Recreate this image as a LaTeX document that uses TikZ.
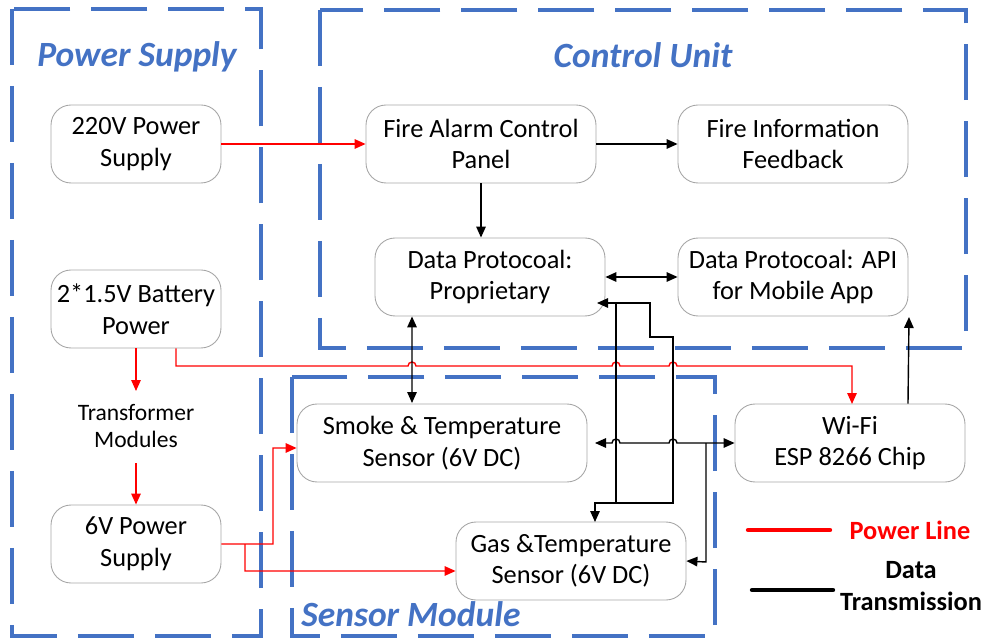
\documentclass[tikz,border=0pt]{standalone}
\usepackage{fontspec}
\setmainfont{Carlito}
\usetikzlibrary{arrows.meta}
\definecolor{zoneblue}{RGB}{68,114,196}
\definecolor{pwrred}{RGB}{255,0,0}
\tikzset{
  blk/.style={draw=gray!70, line width=0.5pt, rounded corners=0.4cm,
    minimum width=4.6cm, minimum height=1.56cm, align=center,
    font=\fontsize{15}{18}\selectfont},
  zone/.style={draw=zoneblue, line width=2pt, dash pattern=on 1.12cm off 0.42cm},
  zonetitle/.style={text=zoneblue, font=\fontsize{20.2}{23}\selectfont\bfseries\itshape},
  pwr/.style={draw=pwrred, line width=0.8pt},
  dat/.style={draw=black, line width=0.8pt},
  legtext/.style={align=center, font=\fontsize{15}{18}\selectfont\bfseries},
}
\begin{document}
\begin{tikzpicture}[x=0.02cm, y=-0.02cm, >={Triangle[length=0.22cm,width=0.19cm]}]
  \useasboundingbox (0,0) rectangle (987,638);

  % Drawing zones
  \draw [zone] (12,9) rectangle (261,636);
  \draw [zone] (320,10) rectangle (966,348);
  \draw [zone] (292,377) rectangle (715,636);
  \node [zonetitle] (tps) at (137,57) {Power Supply};
  \node [zonetitle] (tcu) at (643,55) {Control Unit};
  \node [zonetitle] (tsm) at (411,614) {Sensor Module};

  % Drawing blocks
  \node [blk, minimum width=3.4cm] (ps220) at (136,144) {220V Power\\Supply};
  \node [blk] (facp) at (481,144) {Fire Alarm Control\\Panel};
  \node [blk] (fifb) at (793,144) {Fire Information\\Feedback};
  \node [blk] (dpprop) at (490,277) {Data Protocoal:\\Proprietary};
  \node [blk] (dpapi) at (793,277) {Data Protocoal: API\\for Mobile App};
  \node [blk, minimum width=3.4cm] (batt) at (136,309) {2*1.5V Battery\\Power};
  \node [align=center, font=\fontsize{13.4}{15.9}\selectfont] (trans) at (136,426) {Transformer\\Modules};
  \node [blk, minimum width=3.4cm] (ps6v) at (136,544) {6V Power\\Supply};
  \node [blk, minimum width=5.8cm] (smoke) at (442,443) {Smoke \& Temperature\\Sensor (6V DC)};
  \node [blk] (gas) at (571,561) {Gas \&Temperature\\Sensor (6V DC)};
  \node [blk] (wifi) at (850,443) {Wi-Fi\\ESP 8266 Chip};

  % Drawing power lines
  \draw [pwr,->] (ps220) -- (facp);
  \draw [pwr,->] (batt.south) -- (136,391);
  \draw [pwr,->] (136,463) -- (ps6v.north);
  \draw [pwr,->] ([xshift=0.8cm]batt.south) -- (176,366) -- (408,366)
    arc [start angle=180, end angle=0, radius=0.08cm] -- (612,366)
    arc [start angle=180, end angle=0, radius=0.08cm] -- (669,366)
    arc [start angle=180, end angle=0, radius=0.08cm] -- (852,366) -- (852,404);
  \draw [pwr,->] (ps6v.east) -- (273,544) -- (273,448) -- ([yshift=-0.1cm]smoke.west);
  \draw [pwr,->] (245,544) -- (245,571) -- ([yshift=-0.2cm]gas.west);

  % Drawing data lines
  \draw [dat,->] (facp) -- (fifb);
  \draw [dat,->] (facp.south) -- (facp.south |- dpprop.north);
  \draw [dat,<->] (dpprop.east) -- (dpapi.west);
  \draw [dat,<->] ([xshift=-1.56cm]dpprop.south) -- (412,403);
  \draw [dat,->] ([xshift=1.16cm]wifi.north) -- (909,317);
  \draw [dat,->] (616,503) -- (616,303) -- (597,303);
  \draw [dat] (616,303) -- (650,303) -- (650,337) -- (673,337) -- (673,503) -- (616,503);
  \draw [dat,->] (616,503) -- (595,503) -- (595,522);
  \draw [dat,<->] (595,443) -- (612,443)
    arc [start angle=180, end angle=0, radius=0.08cm] -- (669,443)
    arc [start angle=180, end angle=0, radius=0.08cm] -- (wifi.west);
  \draw [dat,->] (706,443) -- (706,562) -- (gas.east);

  % Drawing legend
  \coordinate (lp1) at (748,530);
  \coordinate (lp2) at (830,530);
  \coordinate (ld1) at (752,590);
  \coordinate (ld2) at (833,590);
  \draw [draw=pwrred, line width=2.5pt, line cap=round] (lp1) -- (lp2);
  \draw [draw=black, line width=2.5pt, line cap=round] (ld1) -- (ld2);
  \node [legtext, text=pwrred] (lpt) at (910,530) {Power Line};
  \node [legtext] (ldt) at (911,586) {Data\\Transmission};
\end{tikzpicture}
\end{document}
